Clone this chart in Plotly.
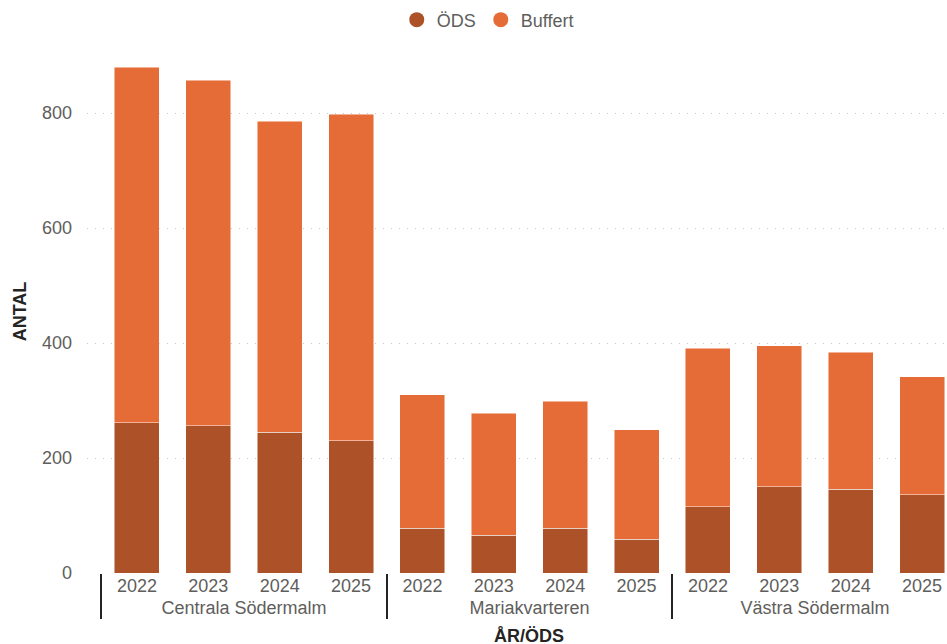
import plotly.graph_objects as go

groups = ["Centrala Södermalm"] * 4 + ["Mariakvarteren"] * 4 + ["Västra Södermalm"] * 4
years = ["2022", "2023", "2024", "2025"] * 3
ods = [261, 256, 245, 230, 78, 66, 78, 59, 115, 150, 146, 136]
total = [880, 857, 786, 798, 310, 278, 299, 249, 391, 395, 384, 341]
buffert = [t - o for t, o in zip(total, ods)]

ods_color = "#AD5129"
buf_color = "#E66C37"
font = "Liberation Sans, Arial, sans-serif"

fig = go.Figure()
fig.add_trace(go.Bar(x=[groups, years], y=ods, name="ÖDS", showlegend=False,
                     marker=dict(color=ods_color, line=dict(color="rgba(255,255,255,0.6)", width=0.8))))
fig.add_trace(go.Bar(x=[groups, years], y=buffert, name="Buffert", showlegend=False,
                     marker=dict(color=buf_color, line=dict(color="rgba(255,255,255,0.6)", width=0.8))))
# legend-only entries with circular markers
for name, col in [("ÖDS", ods_color), ("Buffert", buf_color)]:
    fig.add_trace(go.Scatter(x=[None], y=[None], mode="markers", name=name,
                             marker=dict(symbol="circle", size=15, color=col)))

fig.update_layout(
    width=947, height=644,
    barmode="stack", bargap=0.37,
    plot_bgcolor="white", paper_bgcolor="white",
    margin=dict(l=87, r=0, t=50, b=71),
    font=dict(family=font, size=18, color="#605E5C"),
    legend=dict(orientation="h", x=0.466, xanchor="center",
                yref="container", y=0.969, yanchor="middle",
                font=dict(size=18, color="#605E5C"), itemwidth=30,
                traceorder="normal", tracegroupgap=0),
    showlegend=True,
)
fig.update_yaxes(
    range=[0, 909.6], tickvals=[0, 200, 400, 600, 800], automargin=False,
    showgrid=True, gridcolor="#C8C6C4", griddash="1px,7px", gridwidth=1.2,
    zeroline=False, ticks="", ticklabelstandoff=14,
    tickfont=dict(size=18, color="#605E5C"),
    title=dict(text="<b>ANTAL</b>", font=dict(size=18, color="#252423"), standoff=10),
)
fig.update_xaxes(
    type="multicategory", range=[-0.7, 11.35], automargin=False,
    showdividers=True, dividercolor="#252423", dividerwidth=1.5,
    tickfont=dict(size=18, color="#605E5C"),
    showline=False, ticks="",
)
fig.add_annotation(text="<b>ÅR/ÖDS</b>", xref="paper", yref="paper", x=0.514, y=-0.097,
                   xanchor="center", yanchor="top", showarrow=False,
                   font=dict(size=18, color="#252423", family=font))

fig.write_html(
    "out.html",
    config={"displayModeBar": False},
    post_script="document.body.style.margin='0';document.body.style.overflow='hidden';",
)
